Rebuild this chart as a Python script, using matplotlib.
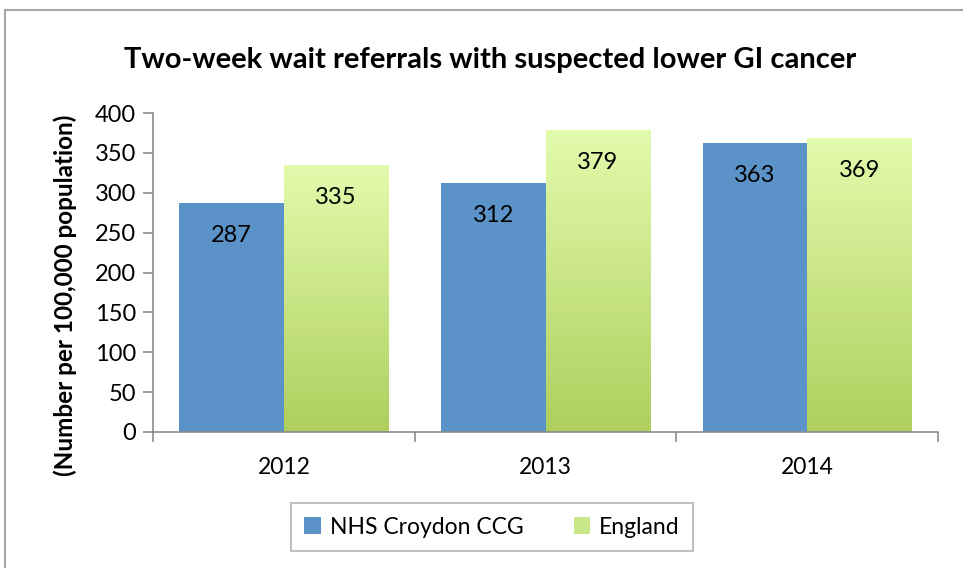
import matplotlib.pyplot as plt
import numpy as np
from matplotlib.patches import Rectangle, Patch
from matplotlib.colors import LinearSegmentedColormap

plt.rcParams['font.family'] = ['Lato', 'DejaVu Sans']

years = ['2012', '2013', '2014']
croydon = [287, 312, 363]
england = [335, 379, 369]

blue = '#5B93C8'
grey = '#8C8C8C'
green_map = LinearSegmentedColormap.from_list('grn', ['#AECF5E', '#E3FBAD'])

fig = plt.figure(figsize=(9.63, 5.68), dpi=100)
# outer chart frame
fig.patches.append(Rectangle((5 / 963, -0.1), 1.2, (1 - 10 / 568) + 0.1,
                             transform=fig.transFigure, fill=False,
                             edgecolor='#A6A6A6', linewidth=1.5))

ax = fig.add_axes([153 / 963, 1 - 432 / 568, 785 / 963, 319 / 568])
x = np.arange(len(years))
w = 0.4

b1 = ax.bar(x - w / 2, croydon, w, color=blue, zorder=2)
b2 = ax.bar(x + w / 2, england, w, color='none', zorder=2)

# gradient fill for England bars
grad = np.linspace(0, 1, 256).reshape(-1, 1)
for rect in b2:
    x0, h = rect.get_x(), rect.get_height()
    im = ax.imshow(grad, cmap=green_map, origin='lower', aspect='auto',
                   extent=(x0, x0 + w, 0, h), zorder=2)
    im.set_clip_path(rect)

for rect, v in zip(b1, croydon):
    ax.text(rect.get_x() + w / 2, v - 41, str(v), ha='center', va='center',
            fontsize=17, zorder=3)
for rect, v in zip(b2, england):
    ax.text(rect.get_x() + w / 2, v - 41, str(v), ha='center', va='center',
            fontsize=17, zorder=3)

ax.set_xlim(-0.5, 2.5)
ax.set_ylim(0, 400)
ax.set_yticks(range(0, 401, 50))
ax.set_xticks(x)
ax.set_xticklabels(years)
ax.set_xticks([-0.5, 0.5, 1.5, 2.5], minor=True)
ax.tick_params(axis='x', which='major', length=0, pad=18, labelsize=16.5)
ax.tick_params(axis='x', which='minor', length=7, color=grey, width=1.2)
ax.tick_params(axis='y', length=7, color=grey, width=1.2, labelsize=17, pad=5)
for s in ['top', 'right']:
    ax.spines[s].set_visible(False)
for s in ['left', 'bottom']:
    ax.spines[s].set_color(grey)
    ax.spines[s].set_linewidth(1.2)

ax.set_ylabel('(Number per 100,000 population)', fontsize=17.5,
              fontweight='bold')
ax.yaxis.set_label_coords(-0.097, 0.43)
fig.text(490 / 963, 1 - 60 / 568,
         'Two-week wait referrals with suspected lower GI cancer',
         ha='center', va='center', fontsize=21, fontweight='bold')

handles = [Patch(facecolor=blue, label='NHS Croydon CCG'),
           Patch(facecolor='#C8E68A', label='England')]
leg = fig.legend(handles=handles, loc='center', ncol=2,
                 bbox_to_anchor=(492 / 963, 1 - 527 / 568), fontsize=16.5,
                 frameon=True, fancybox=False, edgecolor='#B0B0B0',
                 handlelength=0.7, handleheight=0.7, handletextpad=0.4,
                 columnspacing=2.2, borderpad=0.6, borderaxespad=0)
leg.get_frame().set_linewidth(1.5)

fig.savefig('out.png', dpi=100)
